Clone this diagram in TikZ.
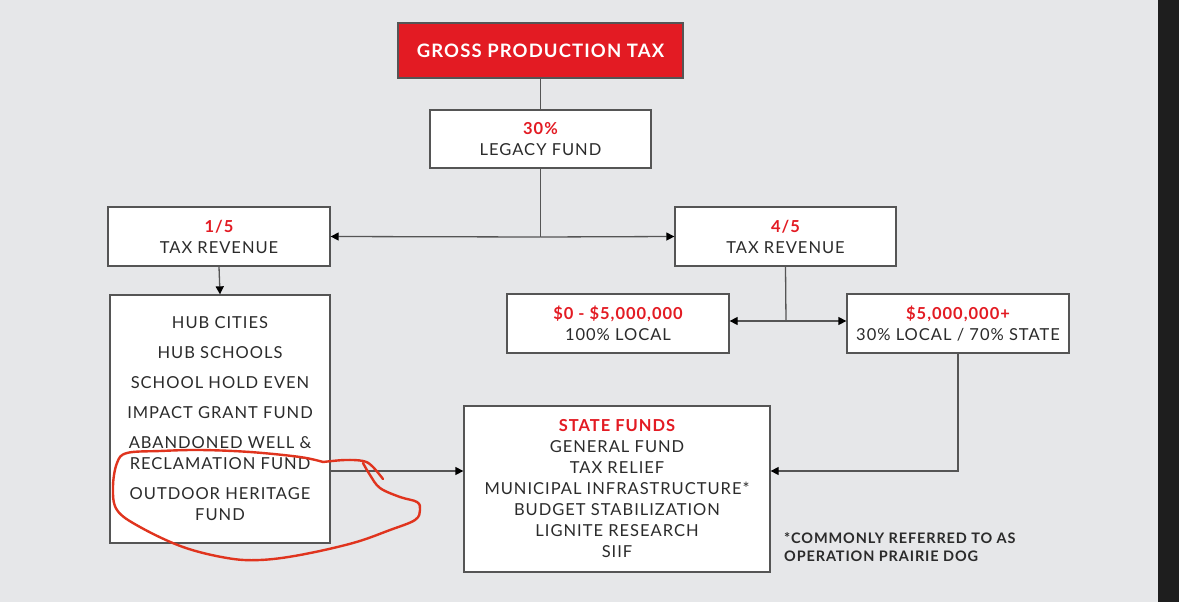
\documentclass[tikz,border=0pt]{standalone}
\usepackage{fontspec}
\setmainfont{Lato}[LetterSpace=6]
\usetikzlibrary{arrows.meta}
\definecolor{bg}{HTML}{E6E7E9}
\definecolor{rd}{HTML}{E31B23}
\definecolor{ln}{HTML}{555555}
\definecolor{tx}{HTML}{2B2B2B}
\definecolor{strip}{HTML}{1E1E1E}
\definecolor{pen}{HTML}{E0341E}
\begin{document}
\begin{tikzpicture}[x=1pt,y=-1pt,
  box/.style={draw=ln,line width=1.3pt,fill=white,inner sep=0pt,align=center,text=tx,
    font=\fontsize{16.5}{21}\selectfont},
  conn/.style={draw=ln,line width=1.3pt},
  arr/.style={conn,-{Triangle[length=8pt,width=8pt,color=black]}},
  item/.style={text=tx,font=\fontsize{16.5}{21}\selectfont,align=center,inner sep=0pt},
  scribble/.style={draw=pen,line width=2.4pt,line cap=round,line join=round}]
\fill[bg] (0,0) rectangle (1179,602);
\fill[strip] (1158,0) rectangle (1179,602);
\useasboundingbox (0,0) rectangle (1179,602);

\node[box,fill=rd,draw=ln,minimum width=285,minimum height=55,text=white,font=\fontsize{18.5}{21}\selectfont\bfseries] (gross) at (540.5,50.5) {GROSS PRODUCTION TAX};
\node[box,minimum width=221,minimum height=58] (legacy) at (540.5,139) {{\color{rd}\bfseries 30\%}\\LEGACY FUND};
\node[box,minimum width=222,minimum height=59] (r15) at (219,236.5) {{\color{rd}\bfseries 1/5}\\TAX REVENUE};
\node[box,minimum width=221,minimum height=59] (r45) at (785.5,236.5) {{\color{rd}\bfseries 4/5}\\TAX REVENUE};
\node[box,minimum width=220,minimum height=248] (list) at (220,419) {};
\node[box,minimum width=222,minimum height=59] (loc) at (618,323.5) {{\color{rd}\bfseries \$0 - \$5,000,000}\\100\% LOCAL};
\node[box,minimum width=222,minimum height=59] (st) at (958,323.5) {{\color{rd}\bfseries \$5,000,000+}\\30\% LOCAL / 70\% STATE};
\node[box,minimum width=306,minimum height=166] (funds) at (617,489) {{\color{rd}\bfseries STATE FUNDS}\\GENERAL FUND\\TAX RELIEF\\MUNICIPAL INFRASTRUCTURE*\\BUDGET STABILIZATION\\LIGNITE RESEARCH\\SIIF};

\node[item] (i1) at (220,323) {HUB CITIES};
\node[item] (i2) at (220,353) {HUB SCHOOLS};
\node[item] (i3) at (220,383) {SCHOOL HOLD EVEN};
\node[item] (i4) at (220,413) {IMPACT GRANT FUND};
\node[item] (i5) at (220,453) {ABANDONED WELL \&\\RECLAMATION FUND};
\node[item] (i6) at (220,504.5) {OUTDOOR HERITAGE\\FUND};

\node[anchor=west,align=left,inner sep=0pt,text=tx,font=\fontsize{14.5}{18}\selectfont\bfseries] (note) at (784,547) {*COMMONLY REFERRED TO AS\\OPERATION PRAIRIE DOG};

\coordinate (j1) at (540.5,237);
\coordinate (j2) at (786,321);
\coordinate (yl) at (0,471);
\draw[conn] (gross.south) -- (legacy.north);
\draw[conn] (legacy.south) -- (j1);
\draw[arr] (j1) -- (r15.east);
\draw[arr] (j1) -- (r45.west);
\draw[arr] (r15.south) -- (list.north);
\draw[conn] (r45.south) -- (j2);
\draw[arr] (j2) -- (loc.east |- j2);
\draw[arr] (j2) -- (st.west |- j2);
\draw[arr] (list.east |- yl) -- (funds.west |- yl);
\draw[arr] (st.south) |- (funds.east |- yl);

\draw[scribble] plot[smooth,tension=0.6] coordinates {(323,462) (345,460) (363,461) (372,466) (383,479)};
\draw[scribble] plot[smooth,tension=0.6] coordinates {(363,463) (370,475) (380,488) (400,497) (417,502) (420,510) (415,520) (390,530) (353,543) (300,555) (260,560) (227,558) (183,547) (140,527) (117,510) (113,487) (117,463) (127,453) (160,451) (200,450) (250,452) (300,457) (323,462)};
\end{tikzpicture}
\end{document}
